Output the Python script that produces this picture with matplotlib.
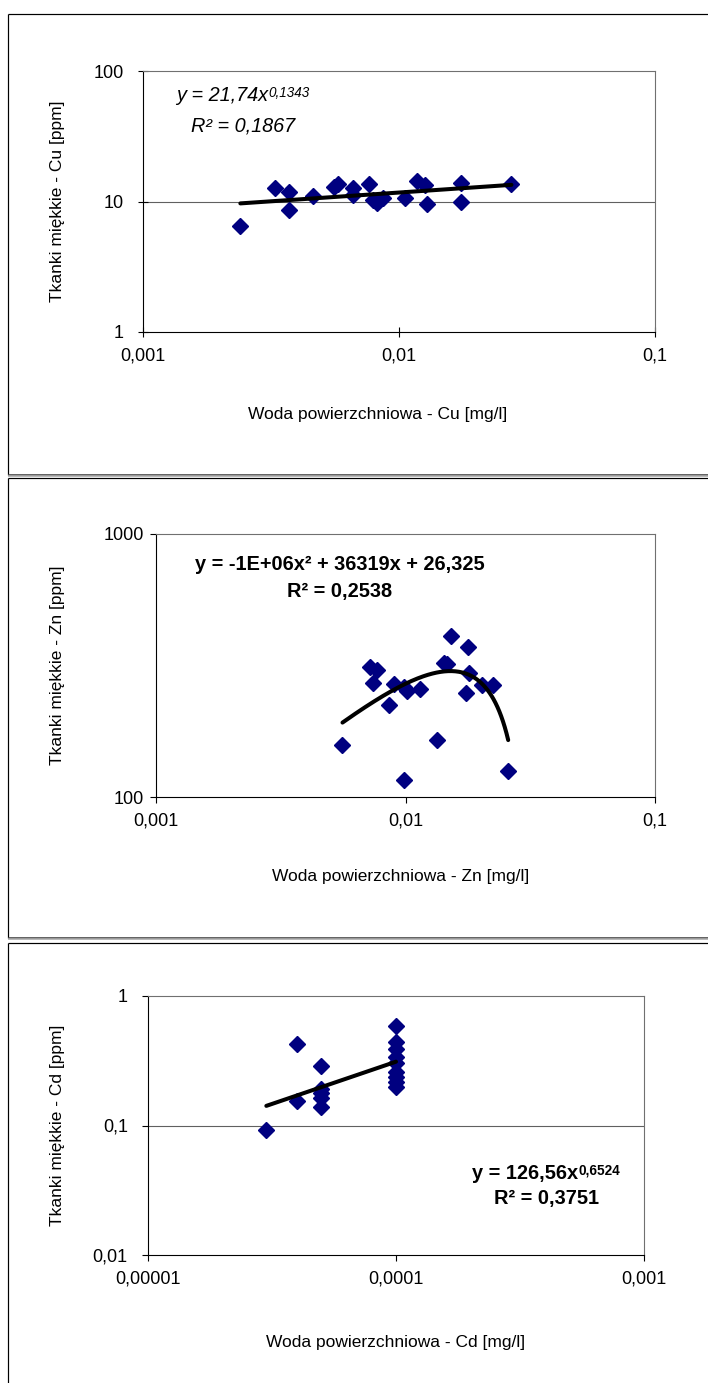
import matplotlib
matplotlib.use("Agg")
import matplotlib.pyplot as plt
import numpy as np
from matplotlib.ticker import FixedLocator, FixedFormatter, NullLocator
from matplotlib.offsetbox import TextArea, HPacker, VPacker, AnnotationBbox

plt.rcParams['font.family'] = ['Liberation Sans', 'DejaVu Sans']

W, H, DPI = 708, 1383, 100

# ---------------- data ----------------
cu_water = [0.0024, 0.00329, 0.00371, 0.00371, 0.0046, 0.00557, 0.0058, 0.00664,
            0.00664, 0.00762, 0.00793, 0.00818, 0.00866, 0.01057, 0.01173, 0.0126,
            0.0129, 0.0175, 0.0175, 0.0275]
cu_tissue = [6.44, 12.8, 11.9, 8.6, 11.0, 13.0, 13.6, 12.6, 11.2, 13.6, 10.2, 9.8,
             10.6, 10.6, 14.4, 13.4, 9.6, 13.8, 10.0, 13.6]
cu_coef, cu_exp = 21.74, 0.1343

zn_water = [0.00559, 0.0072, 0.00767, 0.00738, 0.00896, 0.0086, 0.0099, 0.01015,
            0.01138, 0.0099, 0.0134, 0.01422, 0.01466, 0.01528, 0.0178, 0.018,
            0.0174, 0.0202, 0.0224, 0.0258]
zn_tissue = [158, 312, 304, 271, 268, 224, 263, 252, 258, 116, 165, 323, 321, 411,
             371, 296, 249, 266, 266, 126]
zn_a, zn_b, zn_c = -1.2e6, 36319, 26.325

cd_water = [3e-5, 4e-5, 4e-5, 5e-5, 5e-5, 5e-5, 5e-5, 5e-5,
            1e-4, 1e-4, 1e-4, 1e-4, 1e-4, 1e-4, 1e-4, 1e-4, 1e-4]
cd_tissue = [0.092, 0.425, 0.155, 0.289, 0.193, 0.177, 0.162, 0.139,
             0.586, 0.443, 0.387, 0.34, 0.302, 0.26, 0.235, 0.218, 0.197]
cd_coef, cd_exp = 126.56, 0.6524

cu_xticks, cu_xlabels = [0.001, 0.01, 0.1], ["0,001", "0,01", "0,1"]
cu_yticks, cu_ylabels = [1, 10, 100], ["1", "10", "100"]
zn_xticks, zn_xlabels = [0.001, 0.01, 0.1], ["0,001", "0,01", "0,1"]
zn_yticks, zn_ylabels = [100, 1000], ["100", "1000"]
cd_xticks, cd_xlabels = [0.00001, 0.0001, 0.001], ["0,00001", "0,0001", "0,001"]
cd_yticks, cd_ylabels = [0.01, 0.1, 1], ["0,01", "0,1", "1"]

# ---------------- figure ----------------
fig = plt.figure(figsize=(W / DPI, H / DPI), dpi=DPI)
fig.patch.set_facecolor('white')

bg = fig.add_axes([0, 0, 1, 1], zorder=-5)
bg.set_xlim(0, W)
bg.set_ylim(H, 0)
bg.axis('off')

def hline(y, x0, x1, c, lw):
    bg.plot([x0, x1], [y, y], color=c, lw=lw * 72 / DPI, solid_capstyle='butt')

def vline(x, y0, y1, c, lw):
    bg.plot([x, x], [y0, y1], color=c, lw=lw * 72 / DPI, solid_capstyle='butt')

# panel frames
for top, bot in [(13.5, 474.5), (478, 937.5), (942.5, None)]:
    hline(top, 7.5, W, '#000000', 1.2)
    vline(7.5, top, bot if bot else H, '#000000', 1.2)
    if bot:
        hline(bot, 7.5, W, '#404040', 1.6)
        hline(bot + 1.6, 7.5, W, '#a8a8a8', 1.6)


def make_ax(l, r, t, b):
    return fig.add_axes([l / W, 1 - b / H, (r - l) / W, (b - t) / H])


def style_ax(ax, xticks, xlabels, yticks, ylabels, tickdir, ypad, xpad):
    ax.set_xscale('log')
    ax.set_yscale('log')
    ax.set_xlim(xticks[0], xticks[-1])
    ax.set_ylim(min(yticks), max(yticks))
    ax.xaxis.set_major_locator(FixedLocator(xticks))
    ax.xaxis.set_major_formatter(FixedFormatter(xlabels))
    ax.yaxis.set_major_locator(FixedLocator(yticks))
    ax.yaxis.set_major_formatter(FixedFormatter(ylabels))
    ax.xaxis.set_minor_locator(NullLocator())
    ax.yaxis.set_minor_locator(NullLocator())
    ln = 7.0 if tickdir == 'inout' else 4.5
    ax.tick_params(axis='both', direction=tickdir, length=ln, width=0.8,
                   labelsize=13, colors='black', top=False, right=False)
    ax.tick_params(axis='y', pad=ypad)
    ax.tick_params(axis='x', pad=xpad)
    for s in ['left', 'bottom']:
        ax.spines[s].set_color('black')
        ax.spines[s].set_linewidth(0.8)
    for s in ['top', 'right']:
        ax.spines[s].set_color('#707070')
        ax.spines[s].set_linewidth(0.8)
    ax.set_facecolor('white')


def grid_at(ax, yvals):
    for y in yvals:
        ax.axhline(y, color='#606060', lw=0.8, zorder=1)


def equation(cx, cy, base, sup, r2, weight, style, size, sep):
    props = dict(fontsize=size, fontweight=weight, fontstyle=style, color='black')
    parts = [TextArea(base, textprops=props)]
    if sup:
        parts.append(TextArea(sup, textprops=dict(props, fontsize=size * 0.68)))
    line1 = HPacker(children=parts, align='top', pad=0, sep=0)
    line2 = TextArea(r2, textprops=props)
    box = VPacker(children=[line1, line2], align='center', pad=0, sep=sep)
    ab = AnnotationBbox(box, (cx / W, 1 - cy / H), xycoords='figure fraction',
                        frameon=False, box_alignment=(0.5, 0.5), pad=0)
    fig.add_artist(ab)


def labels(cx_x, cy_x, xlab, cx_y, cy_y, ylab):
    fig.text(cx_x / W, 1 - cy_x / H, xlab, ha='center', va='center', fontsize=12.5)
    fig.text(cx_y / W, 1 - cy_y / H, ylab, ha='center', va='center', fontsize=12.5,
             rotation=90)

MK = dict(marker='D', ms=8, color='#000080', mec='#000080', ls='none', zorder=3)
TL = dict(color='black', lw=2.9, zorder=4, solid_capstyle='round')

# ---------------- panel 1: Cu ----------------
ax1 = make_ax(143, 655, 71, 332)
style_ax(ax1, cu_xticks, cu_xlabels, cu_yticks, cu_ylabels, 'inout', 10.5, 8)
grid_at(ax1, [10])
ax1.plot(cu_water, cu_tissue, **MK)
xf = np.geomspace(min(cu_water), max(cu_water), 60)
ax1.plot(xf, cu_coef * xf ** cu_exp, **TL)
equation(243, 110.5, "y = 21,74x", "0,1343", "R² = 0,1867", 'normal', 'italic', 14.3, 8.5)
labels(378, 414, "Woda powierzchniowa - Cu [mg/l]", 58, 201,
       "Tkanki miękkie - Cu [ppm]")

# ---------------- panel 2: Zn ----------------
ax2 = make_ax(156, 655, 534, 797)
style_ax(ax2, zn_xticks, zn_xlabels, zn_yticks, zn_ylabels, 'out', 4, 7)
ax2.plot(zn_water, zn_tissue, **MK)
xf = np.linspace(min(zn_water), max(zn_water), 200)
ax2.plot(xf, zn_a * xf ** 2 + zn_b * xf + zn_c, **TL)
equation(340, 578, "y = -1E+06x² + 36319x + 26,325", None, "R² = 0,2538",
         'bold', 'normal', 14.4, 5.5)
labels(401, 877, "Woda powierzchniowa - Zn [mg/l]", 58, 665,
       "Tkanki miękkie - Zn [ppm]")

# ---------------- panel 3: Cd ----------------
ax3 = make_ax(148, 644, 996, 1255)
style_ax(ax3, cd_xticks, cd_xlabels, cd_yticks, cd_ylabels, 'out', 10, 7)
grid_at(ax3, [0.1])
ax3.plot(cd_water, cd_tissue, **MK)
xf = np.geomspace(min(cd_water), max(cd_water), 60)
ax3.plot(xf, cd_coef * xf ** cd_exp, **TL)
equation(546, 1186, "y = 126,56x", "0,6524", "R² = 0,3751", 'bold', 'normal', 14.4, 5)
labels(396, 1343, "Woda powierzchniowa - Cd [mg/l]", 58, 1125,
       "Tkanki miękkie - Cd [ppm]")

fig.savefig("out.png", dpi=DPI, facecolor='white')
